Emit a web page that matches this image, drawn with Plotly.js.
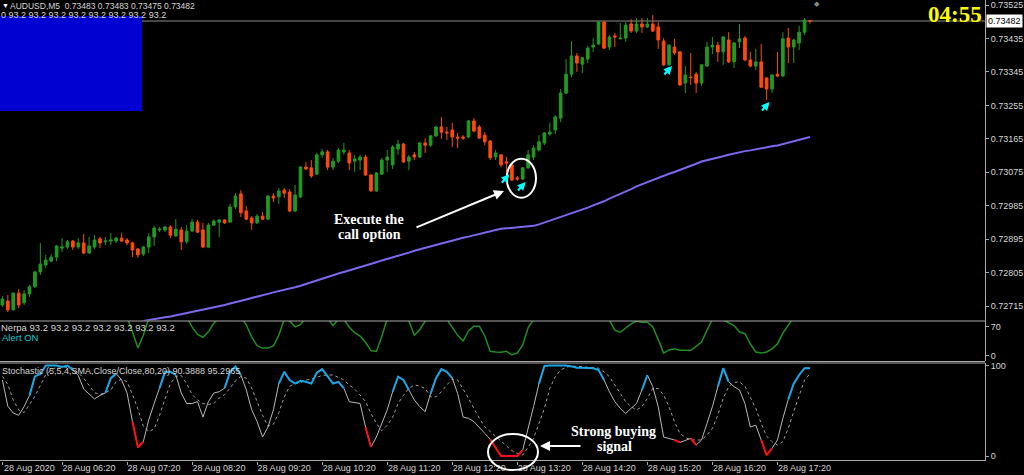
<!DOCTYPE html>
<html><head><meta charset="utf-8">
<script src="https://cdn.plot.ly/plotly-3.0.1.min.js"></script>
<style>html,body{margin:0;padding:0;background:#000;}#chart{width:1024px;height:475px;}</style>
</head><body><div id="chart"></div>
<script>
// ---------------- data ----------------
const startTime = Date.UTC(2020, 7, 28, 5, 25);
const barMinutes = 5;
const lastPrice = 0.73482;
const headerOHLC = ['0.73483', '0.73483', '0.73475', '0.73482'];

const open = [
.72718,.72729,.72705,.72750,.72724,.72748,.72767,.72807,.72826,.72836,
.72847,.72871,.72874,.72890,.72874,.72885,.72858,.72874,.72896,.72888,
.72890,.72890,.72898,.72893,.72885,.72869,.72855,.72874,.72901,.72920,
.72920,.72928,.72904,.72920,.72888,.72917,.72941,.72920,.72874,.72933,
.72941,.72947,.72941,.72982,.73017,.72971,.72952,.72939,.72957,.72949,
.73011,.73009,.73027,.73022,.72971,.73009,.73089,.73087,.73070,.73122,
.73130,.73089,.73105,.73130,.73127,.73105,.73108,.73116,.73068,.73025,
.73070,.73108,.73095,.73138,.73151,.73105,.73122,.73116,.73154,.73148,
.73173,.73197,.73183,.73189,.73170,.73170,.73170,.73213,.73197,.73175,
.73159,.73116,.73122,.73103,.73095,.73060,.73057,.73087,.73116,.73135,
.73154,.73178,.73189,.73221,.73288,.73339,.73388,.73366,.73380,.73412,
.73420,.73479,.73412,.73442,.73434,.73436,.73474,.73455,.73474,.73466,
.73474,.73466,.73428,.73364,.73412,.73399,.73315,.73331,.73339,.73315,
.73361,.73412,.73417,.73399,.73431,.73372,.73426,.73436,.73377,.73361,
.73372,.73329,.73299,.73339,.73334,.73436,.73412,.73423,.73452,.73483];
const high = [
.72742,.72745,.72752,.72761,.72758,.72772,.72810,.72885,.72853,.72855,
.72879,.72898,.72893,.72893,.72898,.72909,.72901,.72906,.72901,.72901,
.72912,.72901,.72912,.72898,.72888,.72871,.72877,.72912,.72931,.72928,
.72931,.72933,.72949,.72928,.72933,.72949,.72947,.72939,.72939,.72949,
.72949,.72949,.72990,.73019,.73027,.72984,.72957,.72963,.72968,.73014,
.73019,.73033,.73033,.73030,.73041,.73092,.73103,.73108,.73127,.73138,
.73135,.73114,.73140,.73154,.73135,.73122,.73122,.73122,.73070,.73076,
.73114,.73135,.73148,.73162,.73154,.73122,.73130,.73157,.73167,.73175,
.73200,.73224,.73197,.73208,.73181,.73175,.73216,.73221,.73202,.73183,
.73162,.73135,.73124,.73116,.73097,.73065,.73089,.73135,.73148,.73175,
.73183,.73208,.73229,.73299,.73380,.73428,.73396,.73385,.73415,.73436,
.73482,.73482,.73444,.73450,.73477,.73479,.73487,.73490,.73490,.73490,
.73498,.73479,.73436,.73420,.73434,.73401,.73361,.73396,.73345,.73366,
.73426,.73439,.73426,.73442,.73452,.73426,.73474,.73442,.73399,.73407,
.73420,.73331,.73339,.73399,.73452,.73463,.73434,.73469,.73490,.73483];
const low = [
.72713,.72699,.72703,.72710,.72718,.72740,.72764,.72799,.72818,.72834,
.72836,.72861,.72869,.72866,.72869,.72855,.72855,.72869,.72871,.72879,
.72879,.72885,.72888,.72879,.72847,.72845,.72850,.72858,.72877,.72914,
.72914,.72898,.72901,.72866,.72882,.72914,.72912,.72871,.72871,.72931,
.72901,.72936,.72939,.72976,.72955,.72947,.72920,.72936,.72947,.72947,
.72995,.72990,.73006,.72968,.72968,.73006,.73081,.73060,.73068,.73114,
.73081,.73081,.73100,.73122,.73081,.73076,.73081,.73065,.73022,.73022,
.73068,.73076,.73084,.73122,.73100,.73081,.73108,.73114,.73127,.73143,
.73170,.73165,.73162,.73143,.73140,.73162,.73167,.73183,.73165,.73148,
.73108,.73108,.73089,.73076,.73052,.73052,.73054,.73084,.73108,.73130,
.73148,.73173,.73178,.73210,.73286,.73331,.73345,.73342,.73369,.73399,
.73417,.73407,.73404,.73412,.73433,.73426,.73450,.73450,.73450,.73463,
.73452,.73407,.73361,.73361,.73391,.73307,.73288,.73310,.73288,.73307,
.73358,.73393,.73372,.73364,.73369,.73356,.73409,.73374,.73358,.73350,
.73302,.73269,.73288,.73331,.73331,.73369,.73369,.73404,.73444,.73475];
const close = [
.72734,.72705,.72750,.72718,.72748,.72767,.72807,.72828,.72839,.72847,
.72877,.72874,.72888,.72874,.72885,.72858,.72877,.72893,.72885,.72890,
.72893,.72898,.72890,.72885,.72866,.72853,.72874,.72901,.72925,.72922,
.72928,.72906,.72922,.72888,.72917,.72941,.72914,.72874,.72933,.72944,
.72947,.72939,.72982,.73011,.72966,.72949,.72939,.72957,.72949,.73011,
.73006,.73025,.73019,.72971,.73014,.73089,.73084,.73065,.73122,.73130,
.73089,.73105,.73135,.73135,.73100,.73111,.73116,.73068,.73025,.73073,
.73108,.73116,.73143,.73151,.73103,.73116,.73116,.73154,.73148,.73173,
.73197,.73183,.73181,.73170,.73167,.73167,.73213,.73186,.73167,.73157,
.73114,.73127,.73095,.73100,.73054,.73057,.73087,.73122,.73140,.73157,
.73181,.73183,.73224,.73288,.73339,.73388,.73369,.73383,.73409,.73417,
.73479,.73409,.73439,.73439,.73436,.73471,.73455,.73474,.73466,.73474,
.73455,.73431,.73364,.73417,.73396,.73310,.73337,.73330,.73315,.73364,
.73412,.73417,.73399,.73439,.73372,.73423,.73434,.73377,.73361,.73372,
.73304,.73299,.73337,.73334,.73434,.73412,.73431,.73452,.73485,.73482];

const movingAverage = [
null,null,null,null,null,null,null,null,null,null,
null,null,null,null,null,null,null,null,null,null,
null,null,null,null,null,null,.72675,.72678,.72681,.72683,
.72685,.72687,.72690,.72693,.72695,.72698,.72701,.72704,.72707,.72711,
.72714,.72718,.72722,.72725,.72729,.72733,.72737,.72740,.72744,.72748,
.72752,.72755,.72759,.72762,.72766,.72770,.72775,.72779,.72784,.72789,
.72794,.72799,.72803,.72807,.72811,.72816,.72820,.72824,.72829,.72833,
.72838,.72842,.72846,.72851,.72855,.72859,.72864,.72868,.72873,.72877,
.72881,.72885,.72888,.72892,.72895,.72899,.72902,.72906,.72909,.72913,
.72916,.72920,.72923,.72924,.72925,.72927,.72928,.72930,.72931,.72935,
.72940,.72944,.72948,.72953,.72958,.72964,.72969,.72975,.72980,.72986,
.72991,.72997,.73004,.73010,.73017,.73024,.73030,.73037,.73043,.73048,
.73054,.73060,.73065,.73071,.73076,.73081,.73087,.73092,.73098,.73104,
.73107,.73111,.73115,.73118,.73122,.73126,.73129,.73132,.73134,.73137,
.73139,.73142,.73145,.73147,.73151,.73155,.73158,.73162,.73166,.73170];

const nerpa = [
93.2,93.2,93.2,93.2,93.2,93.2,93.2,93.2,93.2,93.2,
93.2,93.2,93.2,93.2,93.2,93.2,93.2,93.2,93.2,93.2,
93.2,93.2,93.2,93.2,58,19,50,90,93.2,93.2,
93.2,93.2,93.2,93.2,93.2,70,52,45,58,78,
93.2,93.2,93.2,93.2,93.2,75,45,25,19,19,
24,50,88,84,70,75,93.2,93.2,93.2,93.2,
90,73,88,88,69,56,48,33,13,11,
47,90,93.2,93.2,93.2,84,50,63,84,93.2,
93.2,93.2,88,67.5,49.5,36,60,71.7,71.7,48,
11.3,9.7,9,11.3,3,7,26.5,67.5,88,93.2,
93.2,93.2,93.2,93.2,93.2,93.2,93.2,93.2,93.2,93.2,
93.2,93.2,86,62,57,67.5,77,84,81,81,
70,40,7,14.5,17.5,13.7,13.7,13.7,23,33.6,
62,88,93.2,86,79,73,57.5,53.5,29,9.7,
7,9.7,17,29,55,77,93.2,93.2,93.2,93.2];

const stochMain = [
84,55,47.5,45,54.5,67,88,90.6,100,100,
100,98.5,100,95,89,74,68.5,63,67,69.6,
86,91,84,69.6,38,9.6,15.8,40,58,75,
93,93,89.5,69.6,58,58,60,43,60,69.6,
71,75,93,98.7,89.5,73,51,38,21,32,
51,80,93,84,80,83,82,80,92,96,
87.6,80,82,75,60,59,58,32,10,21,
36,51,71,87.6,84,73,62,54.5,49,69,
86,96,93,86,69,43,41.6,38,32,25,
18.5,8.5,0,0,0,0,6.6,29,54.5,80,
99.5,100,100,100,100,99,97.6,97.6,97.6,97,
95,84,71,60,52.7,47,52.7,58,73,89.5,
76.6,54.5,21,19.5,17.7,15,17.7,19.5,12,17.7,
36,54.5,76.6,97,82,76.6,73,58,32,34,
17.7,1,8.5,17.7,41.6,62.6,80,89.5,97,97];
const stochSignal = [
88,79,62,51,48,57,66,78,90,95,
98,98.7,98,97,92,86,78,70,68,70,
73,82,85,82,68,52,33,27,30,45,
63,80,88,89,80,68,62,58,57,58,
64,68,75,83,88,86,75,60,45,33,
35,48,65,77,80,81,84,85,87,89,
89.5,89.5,87,84,78.5,74,67.4,60,47,36,
28,34,42.7,58,67,74.6,78.5,77.3,74.6,65.5,
65.5,71,78.5,85,84,74.6,63.7,52.6,41.6,32.4,
26.9,21.3,15.8,10.3,5.9,3,1,9.6,19.5,36,
52.6,74.6,87.6,95,98,99.4,99.4,98.7,98,97.6,
97,93,87.6,78.5,69.3,60,54.5,50.8,54.5,63.7,
74.6,74.6,67.4,54.5,38,25,20.6,17.7,17.7,17.7,
23.2,30.6,45.3,63.7,76.6,81.4,81.8,77.3,64.8,52.6,
36,22,15.8,12,15.8,30.6,49,67.4,84,90.7];
const stochUpRanges = [[5,13],[19,21],[29,32],[41,44],[51,63],[72,75],[79,83],[99,111],[118,119],[132,134],[145,149]];
const stochDownRanges = [[24,26],[67,68],[90,96],[124,125],[127,128],[140,142]];

const signalBars = [93, 96, 123, 141];
const signalPrices = [0.73070, 0.73049, 0.73361, 0.73264];

const priceTicks = [0.72715, 0.72805, 0.72895, 0.72985, 0.73075, 0.73165, 0.73255, 0.73345, 0.73435, 0.73525];
const timeTicks = ['2020-08-28 05:25','2020-08-28 06:20','2020-08-28 07:20','2020-08-28 08:20','2020-08-28 09:20','2020-08-28 10:20',
  '2020-08-28 11:20','2020-08-28 12:20','2020-08-28 13:20','2020-08-28 14:20','2020-08-28 15:20','2020-08-28 16:20','2020-08-28 17:20'];
const timeTickLabels = ['28 Aug 2020','28 Aug 06:20','28 Aug 07:20','28 Aug 08:20','28 Aug 09:20','28 Aug 10:20',
  '28 Aug 11:20','28 Aug 12:20','28 Aug 13:20','28 Aug 14:20','28 Aug 15:20','28 Aug 16:20','28 Aug 17:20'];

// ---------------- build ----------------
const times = open.map((_, i) => new Date(startTime + i * barMinutes * 60000).toISOString().slice(0, 19).replace('T', ' '));
function segments(values, ranges) {
  const out = values.map(() => null);
  ranges.forEach(([a, b]) => { for (let i = a; i <= b; i++) out[i] = values[i]; });
  return out;
}
// pixel helpers for decorations (plot area 985 x 461)
const PX = x => x / 985, PY = y => (461 - y) / 461;
const GREY = '#a8a8a8', TXT = '#d6d6d6';
const SANS = 'Liberation Sans, Arial, sans-serif', SERIF = 'Liberation Serif, Times New Roman, serif';

const traces = [
  {type: 'candlestick', x: times, open: open, high: high, low: low, close: close, xaxis: 'x', yaxis: 'y',
   increasing: {line: {color: '#229a22', width: 1}, fillcolor: '#229a22'},
   decreasing: {line: {color: '#ff4a0c', width: 1}, fillcolor: '#ff4a0c'},
   whiskerwidth: 0, hoverinfo: 'skip'},
  {type: 'scatter', mode: 'lines', x: times, y: movingAverage, xaxis: 'x', yaxis: 'y',
   line: {color: '#7b68ee', width: 2}, hoverinfo: 'skip'},
  {type: 'scatter', mode: 'lines', x: times, y: nerpa, xaxis: 'x', yaxis: 'y2',
   line: {color: '#1f8f1f', width: 1.5}, hoverinfo: 'skip'},
  {type: 'scatter', mode: 'lines', x: times, y: stochSignal, xaxis: 'x', yaxis: 'y3',
   line: {color: '#a0a0a0', width: 1, dash: 'dot'}, hoverinfo: 'skip'},
  {type: 'scatter', mode: 'lines', x: times, y: stochMain, xaxis: 'x', yaxis: 'y3',
   line: {color: '#b8b8b8', width: 1}, hoverinfo: 'skip'},
  {type: 'scatter', mode: 'lines', x: times, y: segments(stochMain, stochUpRanges), xaxis: 'x', yaxis: 'y3',
   line: {color: '#1aa6e4', width: 2}, connectgaps: false, hoverinfo: 'skip'},
  {type: 'scatter', mode: 'lines', x: times, y: segments(stochMain, stochDownRanges), xaxis: 'x', yaxis: 'y3',
   line: {color: '#ff1010', width: 2}, connectgaps: false, hoverinfo: 'skip'}
];

const axisBase = {showgrid: false, zeroline: false, showline: true, linecolor: GREY, linewidth: 1,
  ticks: 'outside', ticklen: 3, tickcolor: GREY, side: 'right', anchor: 'x', fixedrange: true,
  tickfont: {family: SANS, size: 9, color: TXT}, tickmode: 'array'};

const txt = (text, x, y, opts) => Object.assign({text: text, xref: 'paper', yref: 'paper', x: PX(x), y: PY(y),
  showarrow: false, xanchor: 'left', yanchor: 'middle', font: {family: SANS, size: 9, color: TXT}}, opts || {});

const annotations = [
  txt('▼', 0, 6, {font: {family: SANS, size: 7, color: '#ffffff'}}),
  txt('AUDUSD,M5  ' + headerOHLC.join(' '), 8, 6, {font: {family: SANS, size: 8.5, color: TXT}}),
  txt('0 93.2 93.2 93.2 93.2 93.2 93.2 93.2 93.2', -1, 15.5),
  txt('04:55', 955, 14, {xanchor: 'center', font: {family: SERIF, size: 23, color: '#ffff00', weight: 'bold'}}),
  txt('◆', 817, 4, {xanchor: 'center', font: {family: SANS, size: 7, color: '#8a8a8a'}}),
  txt('Nerpa 93.2 93.2 93.2 93.2 93.2 93.2 93.2', -1, 327.3, {font: {family: SANS, size: 9.5, color: TXT}}),
  txt('Alert ON', 0, 337.3, {font: {family: SANS, size: 9.5, color: '#1ec8d0'}}),
  txt('Stochastic (5,5,4,SMA,Close/Close,80,20) 90.3888 95.2965', 0, 371),
  txt('<b>Execute the</b>', 369, 219, {xanchor: 'center', font: {family: SERIF, size: 14, color: '#ffffff'}}),
  txt('<b>call option</b>', 369, 234, {xanchor: 'center', font: {family: SERIF, size: 14, color: '#ffffff'}}),
  txt('<b>Strong buying</b>', 613, 431, {xanchor: 'center', font: {family: SERIF, size: 14, color: '#ffffff'}}),
  txt('<b>signal</b>', 614, 446, {xanchor: 'center', font: {family: SERIF, size: 14, color: '#ffffff'}}),
  {text: '', xref: 'paper', yref: 'paper', x: PX(504), y: PY(191), ax: -89, ay: 37, showarrow: true,
   arrowcolor: '#ffffff', arrowwidth: 2, arrowhead: 2, arrowsize: 1},
  {text: '', xref: 'paper', yref: 'paper', x: PX(540), y: PY(446), ax: 42, ay: 0, showarrow: true,
   arrowcolor: '#ffffff', arrowwidth: 2, arrowhead: 2, arrowsize: 1},
  {text: '0.73482', xref: 'paper', x: 1, xanchor: 'left', xshift: 1, yref: 'y', y: lastPrice, yanchor: 'middle',
   showarrow: false, bgcolor: '#ffffff', borderpad: 1, font: {family: SANS, size: 9, color: '#000000'}}
];
signalBars.forEach((b, k) => annotations.push({text: '', xref: 'x', yref: 'y', x: times[b], y: signalPrices[k],
  xshift: 3, ax: -9, ay: 10, showarrow: true, arrowcolor: '#00ffff', arrowwidth: 2.2, arrowhead: 2, arrowsize: 0.75,
  standoff: 0, startstandoff: 0}));

const hline = (y) => ({type: 'line', xref: 'paper', yref: 'paper', x0: 0, x1: 1, y0: PY(y), y1: PY(y),
  line: {color: GREY, width: 1}, layer: 'above'});

const shapes = [
  {type: 'line', xref: 'paper', yref: 'y', x0: 0, x1: 1, y0: lastPrice, y1: lastPrice, line: {color: '#8c8c8c', width: 1}, layer: 'below'},
  {type: 'rect', xref: 'paper', yref: 'paper', x0: 0, x1: PX(142), y0: PY(111), y1: PY(16), fillcolor: '#0000d0', line: {width: 0}, layer: 'above'},
  hline(321), hline(361.5), hline(363), hline(460.5),
  {type: 'circle', xref: 'paper', yref: 'paper', x0: PX(506.7), x1: PX(536), y0: PY(197.7), y1: PY(158.7), line: {color: '#ffffff', width: 2}},
  {type: 'circle', xref: 'paper', yref: 'paper', x0: PX(488), x1: PX(538), y0: PY(470), y1: PY(434), line: {color: '#ffffff', width: 2}}
];

const layout = {
  width: 1024, height: 475,
  margin: {l: 0, r: 39, t: 0, b: 14, pad: 0},
  paper_bgcolor: '#000000', plot_bgcolor: '#000000',
  showlegend: false, hovermode: false,
  font: {family: SANS, size: 9, color: TXT},
  xaxis: {type: 'date', range: ['2020-08-28 05:22:47', '2020-08-28 20:31:28'], anchor: 'y3',
    showgrid: false, zeroline: false, showline: false, rangeslider: {visible: false}, fixedrange: true,
    tickmode: 'array', tickvals: timeTicks, ticktext: timeTickLabels, ticks: 'outside', ticklen: 3, tickcolor: GREY,
    ticklabelshift: 27, ticklabelstandoff: -5, tickfont: {family: SANS, size: 9, color: TXT}},
  yaxis: Object.assign({}, axisBase, {domain: [0.30477, 1], range: [0.726764, 0.735385], tickvals: priceTicks, tickformat: '.5f'}),
  yaxis2: Object.assign({}, axisBase, {domain: [0.21692, 0.30369], range: [-12, 84], tickvals: [0, 70]}),
  yaxis3: Object.assign({}, axisBase, {domain: [0, 0.21258], range: [-5.52, 102.76], tickvals: [0, 100]}),
  shapes: shapes, annotations: annotations
};

Plotly.newPlot('chart', traces, layout, {staticPlot: true, displayModeBar: false});
</script>
</body></html>
